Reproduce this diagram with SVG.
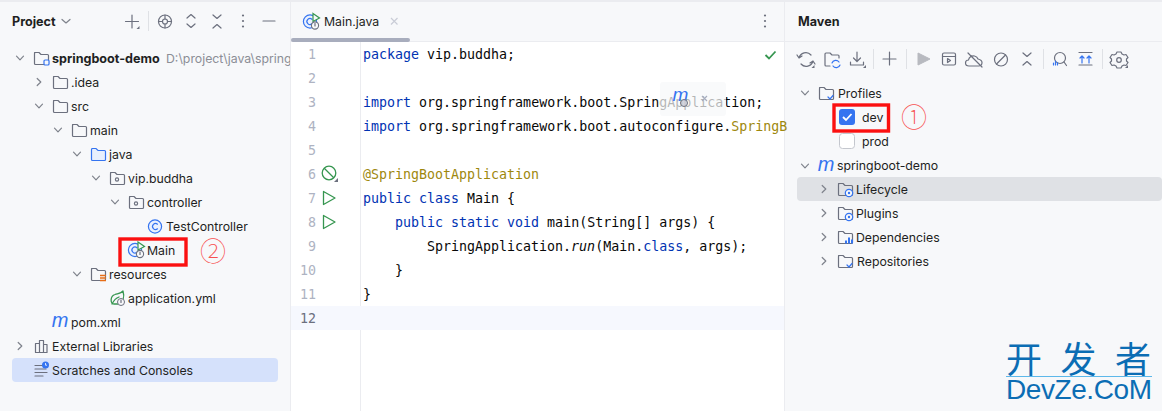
<svg xmlns="http://www.w3.org/2000/svg" xmlns:xlink="http://www.w3.org/1999/xlink" width="1162" height="411" viewBox="0 0 1162 411">
<style>
.ui{font-family:Inter,"Noto Sans","Liberation Sans",sans-serif;font-size:12.3px;fill:#1e1f22}
.b{font-weight:700;font-size:12.6px}
.g{fill:#8b8e96;font-size:12.3px}
.code{font-family:"DejaVu Sans Mono","Liberation Mono",monospace;font-size:13.3px;fill:#080808;white-space:pre}
.kw{fill:#0033b3}
.ann{fill:#9e880d}
.ln{font-family:"DejaVu Sans Mono","Liberation Mono",monospace;font-size:13.3px;fill:#aeb3c2}
.ic{fill:none;stroke:#6c707e;stroke-width:1.2;stroke-linecap:round;stroke-linejoin:round}
.bl{fill:none;stroke:#3574f0;stroke-width:1.2;stroke-linecap:round;stroke-linejoin:round}
.gr{fill:none;stroke:#369650;stroke-width:1.3;stroke-linejoin:round;stroke-linecap:round}
.red{fill:none;stroke:#fb1010;stroke-width:3.4}
.num{font-family:"Noto Sans CJK SC","Liberation Serif",serif;font-size:26px;font-weight:100;fill:#f75050}
.chev{fill:none;stroke:#7f838c;stroke-width:1.2;stroke-linecap:round;stroke-linejoin:round}
</style>
<defs>
<clipPath id="projclip"><rect x="0" y="40" width="290" height="40"/></clipPath>
<path id="folder" d="M-6.500-5.500h4.500l2 2h6.500a1 1 0 0 1 1 1v8a1 1 0 0 1-1 1h-12a1 1 0 0 1-1-1v-10a1 1 0 0 1 1-1z"/>
<path id="down" class="chev" d="M-3.500-1.800 0 1.800 3.500-1.800"/>
<path id="right" class="chev" d="M-1.800-3.500 1.800 0-1.800 3.500"/>
<g id="pkg"><use href="#folder" class="ic"/><circle cx="0" cy="1.500" r="1.600" class="ic"/></g>
<g id="mvn"><text x="0" y="5" font-family="Liberation Sans,sans-serif" font-style="italic" font-size="20" fill="#3574f0" text-anchor="middle">m</text></g>
<g id="gear"><circle r="3.700" fill="#f7f8fa" stroke="#3574f0" stroke-width="1.200"/><circle r="1.200" fill="#3574f0"/></g>
<g id="mainic"><circle cx="-1" cy="0" r="6.600" fill="#eaf1fe" stroke="#3574f0" stroke-width="1.200"/><path d="M1-2.200a3 3 0 1 0 0 4.400" class="bl"/><path d="M2-8 8.500-3.500 2 0z" fill="#f7f8fa" stroke="#369650" stroke-width="1.200"/><circle cx="4" cy="4" r="3.600" fill="#f7f8fa" stroke="#6c707e" stroke-width="1.100"/><path d="M4 2v2.500" class="ic"/></g>
</defs>
<rect width="1162" height="411" fill="#f7f8fa"/>
<rect x="0" y="0" width="1162" height="2" fill="#ebecf0"/>
<rect x="291" y="2" width="494" height="409" fill="#ffffff"/>
<rect x="291" y="2" width="494" height="39" fill="#f7f8fa"/>
<rect x="290" y="2" width="1" height="409" fill="#ebecf0"/>
<rect x="784" y="2" width="1" height="409" fill="#ebecf0"/>
<rect x="291" y="41" width="493" height="1" fill="#ebecf0"/>
<rect x="785" y="41" width="377" height="1" fill="#ebecf0"/>
<rect x="291" y="38" width="119" height="4" rx="2" fill="#a8adbd"/>
<rect x="360" y="42" width="1" height="369" fill="#ebecf0"/>
<rect x="291" y="306" width="493" height="24" fill="#f6f8fe"/>

<g id="project-header">
<text x="12" y="26" class="ui b">Project</text>
<path class="chev" d="M62 19.500l4 3.500 4-3.500"/>
<path class="ic" d="M132 15v13M125.500 21.500h13"/><path d="M139.500 29h-3l3-3z" fill="#6c707e"/>
<rect x="148" y="11" width="1" height="20" fill="#dfe1e5"/>
<circle cx="165" cy="21.500" r="6.500" class="ic"/><circle cx="165" cy="21.500" r="2.500" class="ic"/><path class="ic" d="M165 15v4M165 24v4M158.500 21.500h4M167.500 21.500h4"/>
<path class="ic" d="M187 18l4-3.500 4 3.500M187 24l4 3.500 4-3.500"/>
<path class="ic" d="M213 15l4 3.500 4-3.500M213 28l4-3.500 4 3.500"/>
<circle cx="243" cy="15.500" r="1.100" fill="#6c707e"/><circle cx="243" cy="21" r="1.100" fill="#6c707e"/><circle cx="243" cy="26.500" r="1.100" fill="#6c707e"/>
<path class="ic" d="M263 21h12"/>
</g>

<g id="selection-project"><rect x="12" y="358" width="266" height="24" rx="4" fill="#d5e1fb"/></g>

<g id="n-springboot-demo"><use href="#down" x="20" y="58"/><use href="#folder" x="41" y="58" class="ic"/><rect x="44" y="60" width="5" height="5" rx="1" fill="#f7f8fa" stroke="#3574f0" stroke-width="1.200"/><text x="52" y="63" class="ui b">springboot-demo</text><text x="166" y="63" class="ui g" clip-path="url(#projclip)">D:\project\java\spring</text></g>
<g id="n-idea"><use href="#right" x="39" y="82"/><use href="#folder" x="60" y="82" class="ic"/><text x="71" y="87" class="ui">.idea</text></g>
<g id="n-src"><use href="#down" x="39" y="106"/><use href="#folder" x="60" y="106" class="ic"/><text x="71" y="111" class="ui">src</text></g>
<g id="n-main"><use href="#down" x="58" y="130"/><use href="#folder" x="79" y="130" class="ic"/><text x="90" y="135" class="ui">main</text></g>
<g id="n-java"><use href="#down" x="77" y="154"/><use href="#folder" x="98" y="154" fill="#e7effd" stroke="#3574f0" stroke-width="1.200"/><text x="109" y="159" class="ui">java</text></g>
<g id="n-vip-buddha"><use href="#down" x="96" y="178"/><use href="#pkg" x="117" y="178"/><text x="128" y="183" class="ui">vip.buddha</text></g>
<g id="n-controller"><use href="#down" x="115" y="202"/><use href="#pkg" x="136" y="202"/><text x="147" y="207" class="ui">controller</text></g>
<g id="n-testcontroller"><circle cx="155" cy="226.500" r="6.600" fill="#eaf1fe" stroke="#3574f0" stroke-width="1.200"/><path d="M157.500 224.200a3 3 0 1 0 0 4.600" class="bl"/><text x="166" y="231" class="ui">TestController</text></g>
<g id="n-main-class"><use href="#mainic" x="136" y="250"/><text x="147" y="255" class="ui">Main</text><rect x="120" y="239" width="66" height="26" class="red"/><text x="200" y="261" class="num">②</text></g>
<g id="n-resources"><use href="#down" x="77" y="274"/><use href="#folder" x="98" y="274" class="ic"/><path d="M100 275.500h6M100 278h6M100 280.500h6" stroke="#e66d17" stroke-width="1.300" fill="none"/><text x="109" y="279" class="ui">resources</text></g>
<g id="n-application-yml"><path d="M118 304h-4c-4 0-4-8 1-9.500 3-1 6-1 8-3.500 1 3 1 6 0 9" class="gr"/><path d="M112 304c2-4 4-6 7-7" class="gr"/><circle cx="121" cy="302" r="3.500" fill="#f7f8fa" stroke="#6c707e"/><path d="M121 300v2.500" class="ic"/><text x="128" y="303" class="ui">application.yml</text></g>
<g id="n-pom"><use href="#mvn" x="60" y="322"/><text x="71" y="327" class="ui">pom.xml</text></g>
<g id="n-external"><use href="#right" x="20" y="346"/><path class="ic" d="M35.500 352.500v-9h4v9M39.500 352.500v-12h4v12M43.500 352.500v-8h3.500v8zM35.500 352.500h11.500"/><text x="52" y="351" class="ui">External Libraries</text></g>
<g id="n-scratches"><path class="ic" d="M35 365.500h8M35 369h11M35 372.500h12M35 376h8"/><circle cx="45.500" cy="365" r="3.500" fill="#3574f0"/><path d="M45.500 363v2.200h1.500" stroke="#fff" stroke-width=".8" fill="none"/><text x="52" y="375" class="ui">Scratches and Consoles</text></g>

<g id="editor-tab"><use href="#mainic" x="311" y="21.500"/><text x="324" y="26" class="ui">Main.java</text><path d="M391 18l6.500 6.500M397.500 18l-6.500 6.500" fill="none" stroke="#c9ccd6" stroke-width="1.200"/><circle cx="765" cy="15.500" r="1.100" fill="#6c707e"/><circle cx="765" cy="21" r="1.100" fill="#6c707e"/><circle cx="765" cy="26.500" r="1.100" fill="#6c707e"/></g>

<g id="line-numbers">
<text x="308" y="59" class="ln">1</text><text x="308" y="83" class="ln">2</text><text x="308" y="107" class="ln">3</text><text x="308" y="131" class="ln">4</text><text x="308" y="155" class="ln">5</text><text x="308" y="179" class="ln">6</text><text x="308" y="203" class="ln">7</text><text x="308" y="227" class="ln">8</text><text x="308" y="251" class="ln">9</text><text x="300" y="275" class="ln">10</text><text x="300" y="299" class="ln">11</text><text x="300" y="323" class="ln" style="fill:#6c707e">12</text>
</g>
<g id="gutter-icons">
<circle cx="329" cy="173" r="6.800" class="gr"/><path class="gr" d="M324.500 168.500l9 9"/><path d="M338 182h-4l4-4z" fill="#6c707e"/>
<path class="gr" d="M323.500 191.500l11.500 6.500-11.500 6.500z"/>
<path class="gr" d="M323.500 215.500l11.500 6.500-11.500 6.500z"/>
</g>
<g id="code">
<text x="363" y="59" class="code"><tspan class="kw">package</tspan> vip.buddha;</text>
<text x="363" y="107" class="code"><tspan class="kw">import</tspan> org.springframework.boot.SpringApplication;</text>
<text x="363" y="131" class="code"><tspan class="kw">import</tspan> org.springframework.boot.autoconfigure.<tspan class="ann">SpringB</tspan></text>
<text x="363" y="179" class="code ann">@SpringBootApplication</text>
<text x="363" y="203" class="code"><tspan class="kw">public class</tspan> Main {</text>
<text x="395" y="227" class="code"><tspan class="kw">public static void</tspan> main(String[] args) {</text>
<text x="427" y="251" class="code">SpringApplication.<tspan font-style="italic">run</tspan>(Main.<tspan class="kw">class</tspan>, args);</text>
<text x="395" y="275" class="code">}</text>
<text x="363" y="299" class="code">}</text>
</g>
<g id="check"><path d="M765.500 55l3.500 3.500 6.500-7" fill="none" stroke="#369650" stroke-width="1.800"/></g>
<g id="maven-popup"><rect x="660" y="82" width="66" height="34" rx="3" fill="#f7f8fa" fill-opacity=".72"/><text x="680.500" y="101" font-family="Liberation Sans,sans-serif" font-style="italic" font-size="19" fill="#3574f0" text-anchor="middle">m</text><circle cx="684" cy="103" r="3.500" fill="#c9ccd6" fill-opacity=".8" stroke="#6c707e"/><path d="M702 96l5 5M707 96l-5 5" fill="none" stroke="#a8adbd" stroke-width="1.200"/></g>
<rect x="785" y="2" width="377" height="39" fill="#f7f8fa"/>
<rect x="785" y="41" width="377" height="1" fill="#ebecf0"/>

<g id="maven-header"><text x="798" y="26" class="ui b">Maven</text></g>
<g id="maven-toolbar">
<path class="ic" d="M799 58a7 7 0 0 1 12-3M813 61a7 7 0 0 1-12 3M797 55l2 3 3-2M815 64l-2-3-3 2"/><path d="M814.500 68h-3l3-3z" fill="#6c707e"/>
<path class="ic" d="M830 66h-4a1 1 0 0 1-1-1v-11a1 1 0 0 1 1-1h4l2 2h6a1 1 0 0 1 1 1v2"/><path class="bl" d="M832 63a4 4 0 0 1 7-1M840 65a4 4 0 0 1-7 1"/>
<path class="ic" d="M857 52v9M853.500 58l3.500 3.500 3.500-3.500M850.500 62v3h13v-3"/><path d="M866 68h-3l3-3z" fill="#6c707e"/>
<rect x="873" y="49" width="1" height="20" fill="#dfe1e5"/>
<path class="ic" d="M889.500 52v13M883 59h13"/>
<rect x="906" y="49" width="1" height="20" fill="#dfe1e5"/>
<path d="M918 53l12 6-12 6z" fill="#b8bac0" stroke="#b8bac0" stroke-linejoin="round"/>
<rect x="942.500" y="53" width="13" height="12" rx="1.500" class="ic"/><path class="ic" d="M942.500 56.500h13M947.500 58.500l3 2-3 2z"/>
<path class="ic" d="M969 66c-2.500 0-3.500-1.500-3.500-3s1-3 3-3c.5-3 3-4.500 6-4 2 .5 3 1.500 3.500 3 2 .5 4 1.500 4 3.500s-1.500 3.500-3.500 3.500zM968 53l14 14"/>
<circle cx="1001" cy="59.500" r="6.500" class="ic"/><path class="ic" d="M996.500 64l9-9"/>
<path class="ic" d="M1023 53l4 3.500 4-3.500M1023 65l4-3.500 4 3.500"/>
<rect x="1043" y="49" width="1" height="20" fill="#dfe1e5"/>
<circle cx="1060" cy="58" r="5.500" class="ic"/><path class="ic" d="M1064 62l2.500 3.500"/><path class="bl" d="M1053.500 65v-2M1055.500 65v-4M1057.500 65v-2.500"/>
<path class="ic" d="M1079 52.500h13M1079 65h13"/><path class="bl" d="M1082 63v-7M1080 58l2-2 2 2M1089 63v-7M1087 58l2-2 2 2"/>
<rect x="1102" y="49" width="1" height="20" fill="#dfe1e5"/>
<path class="ic" d="M1117 52h4l1 2 2 1 2-.5 2 3-1.500 1.500v2l1.500 1.500-2 3-2-.5-2 1-1 2h-4l-1-2-2-1-2 .5-2-3 1.500-1.500v-2l-1.500-1.500 2-3 2 .5 2-1z"/><circle cx="1119" cy="60" r="2.300" class="ic"/><path d="M1128 68h-3l3-3z" fill="#6c707e"/>
</g>
<g id="m-profiles"><use href="#down" x="805" y="93"/><use href="#folder" x="826" y="93" class="ic"/><path class="bl" d="M828 97l2 2 3-3.500"/><text x="838" y="98" class="ui">Profiles</text></g>
<g id="m-dev"><rect x="839" y="109" width="16" height="16" rx="3" fill="#3574f0"/><path d="M843 117l3 3 5.500-6" fill="none" stroke="#fff" stroke-width="1.800"/><text x="862" y="122" class="ui">dev</text><rect x="834" y="105" width="54.500" height="26" class="red"/><text x="901" y="127" class="num">①</text></g>
<g id="m-prod"><rect x="839.500" y="133.500" width="15" height="15" rx="3" fill="#fff" stroke="#c4c7ce"/><text x="862" y="146" class="ui">prod</text></g>
<g id="m-springboot-demo"><use href="#down" x="805" y="166"/><use href="#mvn" x="826" y="166"/><text x="837" y="170" class="ui">springboot-demo</text></g>
<g id="m-lifecycle"><rect x="797" y="177" width="365" height="24" rx="4" fill="#dfe1e5"/><use href="#right" x="824" y="189"/><use href="#folder" x="845" y="189" class="ic"/><use href="#gear" x="849" y="193"/><text x="856" y="194" class="ui">Lifecycle</text></g>
<g id="m-plugins"><use href="#right" x="824" y="213"/><use href="#folder" x="845" y="213" class="ic"/><use href="#gear" x="849" y="217"/><text x="856" y="218" class="ui">Plugins</text></g>
<g id="m-dependencies"><use href="#right" x="824" y="237"/><use href="#folder" x="845" y="237" class="ic"/><path d="M846 243.500v-3M849 243.500v-6M852 243.500v-4" stroke="#3574f0" stroke-width="2" fill="none"/><text x="856" y="242" class="ui">Dependencies</text></g>
<g id="m-repositories"><use href="#right" x="824" y="261"/><use href="#folder" x="845" y="261" class="ic"/><path class="bl" d="M847 265l2 2 3-3.500"/><text x="857" y="266" class="ui">Repositories</text></g>

<g id="watermark">
<text x="1006" y="373" font-family="Noto Sans CJK SC,sans-serif" font-size="36" fill="#0b6db4" textLength="145" lengthAdjust="spacing">开发者</text>
<rect x="1006" y="376" width="146" height="1" fill="#5db8ea"/>
<text x="1006" y="399" font-family="Liberation Sans,sans-serif" font-size="28" fill="#0b6db4" textLength="146" lengthAdjust="spacing">DevZe.CoM</text>
</g>
</svg>
